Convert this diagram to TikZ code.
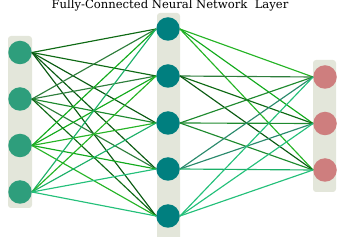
\documentclass[tikz,border=0pt]{standalone}
\usepackage{fontspec}
\newfontfamily\titlefont{DejaVu Serif}
\usetikzlibrary{backgrounds}
\definecolor{bgpanel}{HTML}{E3E6DA}
\definecolor{inL}{HTML}{2E9E7C}
\definecolor{hidM}{HTML}{007F7F}
\definecolor{outR}{HTML}{CE7E7E}
\definecolor{dgA}{HTML}{0E6A14}
\definecolor{dgB}{HTML}{0A5A12}
\definecolor{fgA}{HTML}{2E7E3C}
\definecolor{fgB}{HTML}{1E8A2E}
\definecolor{gA}{HTML}{12AA1C}
\definecolor{gB}{HTML}{26B426}
\definecolor{tgA}{HTML}{2A8A6C}
\definecolor{spA}{HTML}{24C07A}
\definecolor{spB}{HTML}{1CB068}
\tikzset{
  x=1pt,y=-1pt,
  panel/.style={fill=bgpanel,draw=none,rounded corners=3pt},
  neuron/.style={circle,minimum size=23.5pt,inner sep=0pt,draw=none},
  inn/.style={neuron,fill=inL},
  hid/.style={neuron,fill=hidM},
  outn/.style={neuron,fill=outR},
  conn/.style={line width=1.15pt}
}
\begin{document}
\begin{tikzpicture}
\useasboundingbox (0,0) rectangle (350,237);
\node[font=\titlefont\fontsize{11.6}{13}\selectfont,inner sep=0pt] (title) at (170,5.5) {Fully-Connected Neural Network\ \ Layer};
\node[inn] (l1) at (20,52.5) {};
\node[inn] (l2) at (20,99) {};
\node[inn] (l3) at (20,145.5) {};
\node[inn] (l4) at (20,192) {};
\node[hid] (m1) at (168,29) {};
\node[hid] (m2) at (168,76) {};
\node[hid] (m3) at (168,123) {};
\node[hid] (m4) at (168,169) {};
\node[hid] (m5) at (168,216) {};
\node[outn] (r1) at (325,77) {};
\node[outn] (r2) at (325,123.5) {};
\node[outn] (r3) at (325,170) {};
\begin{scope}[on background layer]
\fill[panel] (8,36) rectangle (32,208);
\fill[panel] (157,13) rectangle (180,240);
\fill[panel] (313,60) rectangle (336,192);
\end{scope}
% input -> hidden
\draw[conn,dgA] (l1.east) -- (m1.west);
\draw[conn,dgA] (l1.east) -- (m2.west);
\draw[conn,dgB] (l1.east) -- (m3.west);
\draw[conn,dgB] (l1.east) -- (m4.west);
\draw[conn,dgB] (l1.east) -- (m5.west);
\draw[conn,fgA] (l2.east) -- (m1.west);
\draw[conn,fgA] (l2.east) -- (m2.west);
\draw[conn,fgB] (l2.east) -- (m3.west);
\draw[conn,fgA] (l2.east) -- (m4.west);
\draw[conn,dgA] (l2.east) -- (m5.west);
\draw[conn,gA] (l3.east) -- (m1.west);
\draw[conn,gA] (l3.east) -- (m2.west);
\draw[conn,gB] (l3.east) -- (m3.west);
\draw[conn,gA] (l3.east) -- (m4.west);
\draw[conn,gB] (l3.east) -- (m5.west);
\draw[conn,spB] (l4.east) -- (m1.west);
\draw[conn,gB] (l4.east) -- (m2.west);
\draw[conn,spB] (l4.east) -- (m3.west);
\draw[conn,spA] (l4.east) -- (m4.west);
\draw[conn,spA] (l4.east) -- (m5.west);
% hidden -> output
\draw[conn,gB] (m1.east) -- (r1.west);
\draw[conn,gA] (m1.east) -- (r2.west);
\draw[conn,gB] (m1.east) -- (r3.west);
\draw[conn,fgA] (m2.east) -- (r1.west);
\draw[conn,dgA] (m2.east) -- (r2.west);
\draw[conn,dgB] (m2.east) -- (r3.west);
\draw[conn,fgB] (m3.east) -- (r1.west);
\draw[conn,fgB] (m3.east) -- (r2.west);
\draw[conn,fgB] (m3.east) -- (r3.west);
\draw[conn,tgA] (m4.east) -- (r1.west);
\draw[conn,tgA] (m4.east) -- (r2.west);
\draw[conn,spB] (m4.east) -- (r3.west);
\draw[conn,spA] (m5.east) -- (r1.west);
\draw[conn,spA] (m5.east) -- (r2.west);
\draw[conn,spA] (m5.east) -- (r3.west);
\end{tikzpicture}
\end{document}
